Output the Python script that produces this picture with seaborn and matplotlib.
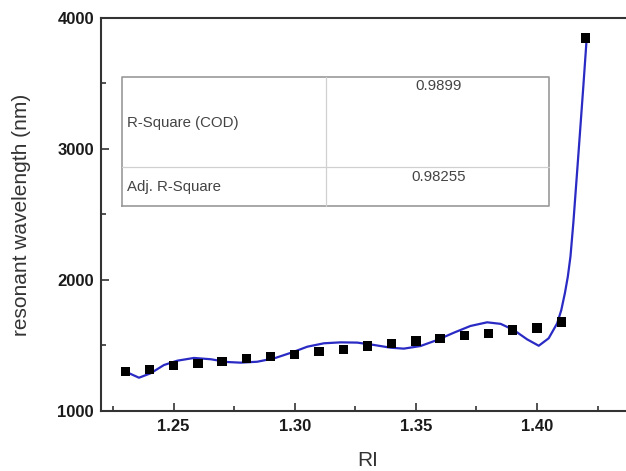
import numpy as np
import pandas as pd
import matplotlib
matplotlib.use('Agg')
import matplotlib.pyplot as plt
import seaborn as sns
from matplotlib.ticker import MultipleLocator, FormatStrFormatter

# measured points
ri = [1.23, 1.24, 1.25, 1.26, 1.27, 1.28, 1.29, 1.30, 1.31, 1.32,
      1.33, 1.34, 1.35, 1.36, 1.37, 1.38, 1.39, 1.40, 1.41, 1.42]
wavelength = [1300, 1318, 1346, 1364, 1379, 1402, 1415, 1433, 1453, 1471,
              1496, 1517, 1534, 1552, 1575, 1593, 1618, 1634, 1680, 3847]

# fitted curve
fit_ri = [1.2302, 1.2357, 1.2405, 1.2460, 1.2515, 1.2584, 1.2653, 1.2721,
          1.2776, 1.2845, 1.2915, 1.2990, 1.3052, 1.3121, 1.3190, 1.3258,
          1.3327, 1.3396, 1.3450, 1.3519, 1.3588, 1.3657, 1.3725, 1.3794,
          1.3850, 1.3904, 1.3959, 1.4007, 1.4048, 1.4083, 1.4100, 1.4115,
          1.4127, 1.4138, 1.4150, 1.4171, 1.4191, 1.4205]
fit_wl = [1300, 1254, 1288, 1351, 1384, 1405, 1395, 1374,
          1369, 1376, 1402, 1448, 1491, 1517, 1524, 1522,
          1504, 1483, 1476, 1496, 1542, 1598, 1649, 1677,
          1665, 1618, 1547, 1498, 1555, 1669, 1770, 1900,
          2025, 2180, 2440, 2967, 3477, 3847]

# fit statistics table
stat_names = ['R-Square (COD)', 'Adj. R-Square']
stat_values = ['0.9899', '0.98255']

sns.set_style('white')
plt.rcParams['font.family'] = ['Liberation Sans', 'DejaVu Sans']

df = pd.DataFrame({'RI': ri, 'wl': wavelength})
fit = pd.DataFrame({'RI': fit_ri, 'wl': fit_wl})

fig = plt.figure(figsize=(6.26, 4.71), dpi=100)
ax = fig.add_axes([0.1613, 0.1274, 0.8514, 0.8344])

sns.lineplot(data=fit, x='RI', y='wl', ax=ax, color='#2a2ac4', lw=1.6, sort=False)
sns.scatterplot(data=df, x='RI', y='wl', ax=ax, marker='s', s=45,
                color='black', edgecolor='none', zorder=3)

ax.set_xlim(1.22, 1.44)
ax.set_ylim(1000, 4000)
ax.xaxis.set_major_locator(MultipleLocator(0.05))
ax.xaxis.set_minor_locator(MultipleLocator(0.025))
ax.xaxis.set_major_formatter(FormatStrFormatter('%.2f'))
ax.yaxis.set_major_locator(MultipleLocator(1000))
ax.yaxis.set_minor_locator(MultipleLocator(500))

for s in ax.spines.values():
    s.set_color('#333333')
    s.set_linewidth(1.5)
ax.tick_params(which='both', direction='in', color='#333333', width=1.2,
               bottom=True, left=True, top=False, right=False)
ax.tick_params(which='major', length=6, labelsize=12)
ax.tick_params(which='minor', length=3.5)
ax.tick_params(axis='x', pad=6)
ax.tick_params(axis='y', pad=5)
for lab in ax.get_xticklabels() + ax.get_yticklabels():
    lab.set_fontweight('bold')
    lab.set_color('#1a1a1a')

ax.set_xlabel('RI', fontsize=15, color='#333333', labelpad=12)
ax.set_ylabel('resonant wavelength (nm)', fontsize=15, color='#333333', labelpad=19)

# stats table
tx0, tx1, txm = 0.0394, 0.8405, 0.4221
ty0, ty1, tym = 0.5224, 0.8506, 0.6201
lc = '#9a9a9a'
ax.plot([tx0, tx1, tx1, tx0, tx0], [ty0, ty0, ty1, ty1, ty0],
        transform=ax.transAxes, color=lc, lw=1.2, zorder=4)
ax.plot([tx0, tx1], [tym, tym], transform=ax.transAxes, color='#d0d0d0', lw=0.9, zorder=4)
ax.plot([txm, txm], [ty0, ty1], transform=ax.transAxes, color='#d0d0d0', lw=0.9, zorder=4)

name_y = [0.7328, 0.5700]
val_y = [0.8270, 0.5954]
for name, val, ny, vy in zip(stat_names, stat_values, name_y, val_y):
    ax.text(0.0488, ny, name, transform=ax.transAxes, fontsize=10.8,
            color='#444444', va='center', ha='left')
    ax.text(0.6341, vy, val, transform=ax.transAxes, fontsize=10.8,
            color='#444444', va='center', ha='center')

fig.savefig('out.png', dpi=100)
